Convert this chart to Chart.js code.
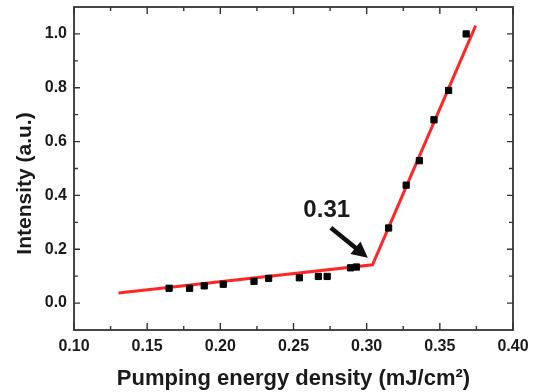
<!DOCTYPE html>
<html>
<head>
<meta charset="utf-8">
<script src="https://cdn.jsdelivr.net/npm/chart.js@4.4.0/dist/chart.umd.min.js"></script>
<style>
  html, body { margin: 0; padding: 0; background: #fff; }
  #wrap { width: 538px; height: 392px; }
</style>
</head>
<body>
<div id="wrap"><canvas id="lasingChart"></canvas></div>
<script>
// measured emission intensity vs pump energy
const energy = [0.165, 0.179, 0.189, 0.202, 0.223, 0.233, 0.254, 0.267, 0.273, 0.289, 0.293,
                0.315, 0.327, 0.336, 0.346, 0.356, 0.368];
const intensity = [0.055, 0.055, 0.064, 0.070, 0.081, 0.092, 0.094, 0.099, 0.099, 0.131, 0.134,
                   0.279, 0.438, 0.529, 0.681, 0.790, 1.000];

// two linear fits meeting at the threshold
const fitEnergy = [0.1304, 0.304, 0.3745];
const fitIntensity = [0.0375, 0.142, 1.031];

const xTicks = [0.10, 0.15, 0.20, 0.25, 0.30, 0.35, 0.40];
const yTicks = [0.0, 0.2, 0.4, 0.6, 0.8, 1.0];
const thresholdText = '0.31';
const yTitleText = 'Intensity (a.u.)';

const FONT = "'Liberation Sans', Arial, sans-serif";
const INK = '#1a1a1a';

// inward ticks on all four sides + frame
const frameTicks = {
    id: 'frameTicks',
    afterDraw(chart) {
        const { ctx, chartArea: a, scales: { x, y } } = chart;
        ctx.save();
        ctx.strokeStyle = '#333';
        ctx.lineWidth = 1.4;
        ctx.beginPath();
        const xv = x.ticks.map(t => t.value);
        xv.forEach((v, i) => {
            const px = x.getPixelForValue(v);
            ctx.moveTo(px, a.bottom); ctx.lineTo(px, a.bottom - 7);
            ctx.moveTo(px, a.top); ctx.lineTo(px, a.top + 7);
            if (i < xv.length - 1) {
                const m = x.getPixelForValue((v + xv[i + 1]) / 2);
                ctx.moveTo(m, a.bottom); ctx.lineTo(m, a.bottom - 4);
                ctx.moveTo(m, a.top); ctx.lineTo(m, a.top + 4);
            }
        });
        const yv = y.ticks.map(t => t.value);
        const step = yv[1] - yv[0];
        yv.forEach(v => {
            const py = y.getPixelForValue(v);
            ctx.moveTo(a.left, py); ctx.lineTo(a.left + 6, py);
            ctx.moveTo(a.right, py); ctx.lineTo(a.right - 6, py);
            const m = y.getPixelForValue(v + step / 2);
            if (m > a.top + 1) {
                ctx.moveTo(a.left, m); ctx.lineTo(a.left + 4, m);
                ctx.moveTo(a.right, m); ctx.lineTo(a.right - 4, m);
            }
        });
        ctx.stroke();
        ctx.lineWidth = 1.8;
        ctx.strokeRect(a.left, a.top, a.right - a.left, a.bottom - a.top);

        // y title sits a bit below the axis centre, as in the original
        ctx.fillStyle = INK;
        ctx.font = 'bold 21px ' + FONT;
        ctx.textAlign = 'center';
        ctx.textBaseline = 'middle';
        ctx.translate(25, (a.top + a.bottom) / 2 + 15);
        ctx.rotate(-Math.PI / 2);
        ctx.fillText(yTitleText, 0, 0);
        ctx.restore();
    }
};

// threshold label with arrow
const thresholdArrow = {
    id: 'thresholdArrow',
    afterDatasetsDraw(chart) {
        const { ctx, scales: { x, y } } = chart;
        const lx = x.getPixelForValue(0.2727), ly = y.getPixelForValue(0.343);
        const x0 = x.getPixelForValue(0.2755), y0 = y.getPixelForValue(0.280);
        const x1 = x.getPixelForValue(0.3008), y1 = y.getPixelForValue(0.168);
        ctx.save();
        ctx.fillStyle = INK;
        ctx.font = 'bold 24px ' + FONT;
        ctx.textAlign = 'center';
        ctx.textBaseline = 'middle';
        ctx.fillText(thresholdText, lx, ly);

        const ang = Math.atan2(y1 - y0, x1 - x0);
        const headLen = 16, headW = 8;
        const bx = x1 - headLen * Math.cos(ang), by = y1 - headLen * Math.sin(ang);
        ctx.strokeStyle = '#111';
        ctx.lineWidth = 4.5;
        ctx.beginPath();
        ctx.moveTo(x0, y0);
        ctx.lineTo(bx + 2 * Math.cos(ang), by + 2 * Math.sin(ang));
        ctx.stroke();
        ctx.fillStyle = '#111';
        ctx.beginPath();
        ctx.moveTo(x1, y1);
        ctx.lineTo(bx + headW * Math.sin(ang), by - headW * Math.cos(ang));
        ctx.lineTo(bx - headW * Math.sin(ang), by + headW * Math.cos(ang));
        ctx.closePath();
        ctx.fill();
        ctx.restore();
    }
};

const ctx = document.getElementById('lasingChart').getContext('2d');
new Chart(ctx, {
    type: 'scatter',
    data: {
        datasets: [{
            label: 'Measured',
            data: energy.map((e, i) => ({ x: e, y: intensity[i] })),
            pointStyle: 'rect',
            pointRadius: 4.4,
            pointBackgroundColor: '#000',
            pointBorderColor: '#000',
            pointBorderWidth: 1,
            order: 0
        }, {
            label: 'Fit',
            data: fitEnergy.map((e, i) => ({ x: e, y: fitIntensity[i] })),
            showLine: true,
            borderColor: '#ff2626',
            borderWidth: 3,
            pointRadius: 0,
            tension: 0,
            order: 1
        }]
    },
    options: {
        responsive: true,
        maintainAspectRatio: false,
        animation: false,
        layout: { padding: { top: 7, right: 25, left: 0, bottom: 0 } },
        plugins: {
            legend: { display: false },
            tooltip: { enabled: false }
        },
        scales: {
            x: {
                type: 'linear',
                min: 0.10,
                max: 0.40,
                afterBuildTicks: s => { s.ticks = xTicks.map(v => ({ value: v })); },
                afterFit: s => { s.height = 62; s.paddingLeft = 0; s.paddingRight = 0; },
                grid: { display: false, drawTicks: false },
                border: { display: false },
                ticks: {
                    padding: 7,
                    color: INK,
                    font: { family: FONT, size: 16, weight: 'bold' },
                    callback: v => v.toFixed(2)
                },
                title: {
                    display: true,
                    text: 'Pumping energy density (mJ/cm²)',
                    color: INK,
                    font: { family: FONT, size: 22, weight: 'bold' },
                    padding: { top: 0, bottom: 0 }
                }
            },
            y: {
                min: -0.1,
                max: 1.1,
                afterBuildTicks: s => { s.ticks = yTicks.map(v => ({ value: v })); },
                afterFit: s => { s.width = 74; s.paddingTop = 0; s.paddingBottom = 0; },
                grid: { display: false, drawTicks: false },
                border: { display: false },
                ticks: {
                    padding: 7,
                    color: INK,
                    font: { family: FONT, size: 16, weight: 'bold' },
                    callback: v => v.toFixed(1)
                }
            }
        }
    },
    plugins: [frameTicks, thresholdArrow]
});
</script>
</body>
</html>
